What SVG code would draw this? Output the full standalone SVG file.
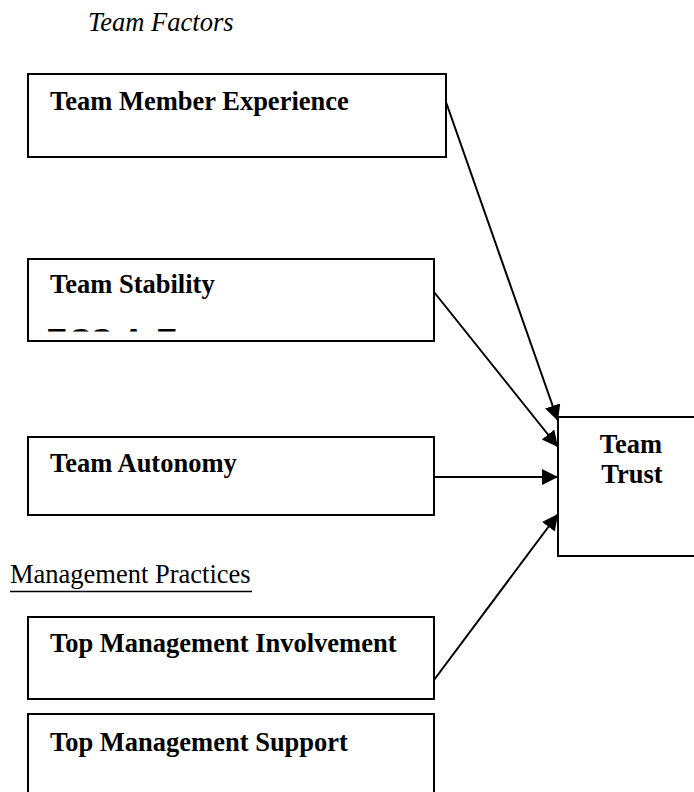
<svg xmlns="http://www.w3.org/2000/svg" width="694" height="792" viewBox="0 0 694 792">
<style>
.box{fill:#fff;stroke:#000;stroke-width:2}
.lbl{font-family:"Liberation Serif","Times New Roman",serif;font-weight:bold;font-size:26.5px;fill:#000}
.hdr{font-family:"Liberation Serif","Times New Roman",serif;font-size:26.5px;fill:#000}
.conn{stroke:#000;stroke-width:2;fill:none;marker-end:url(#ah)}
</style>
<defs>
<marker id="ah" markerUnits="userSpaceOnUse" markerWidth="17" markerHeight="17" refX="16" refY="8" orient="auto">
<path d="M0,0 L16,8 L0,16 z" fill="#000"/>
</marker>
<clipPath id="clipStab"><rect x="29" y="300" width="404" height="31.5"/></clipPath>
</defs>
<rect width="694" height="792" fill="#fff"/>
<text class="hdr" x="88" y="31" font-style="italic">Team Factors</text>
<text class="hdr" x="10" y="583">Management Practices</text>
<line x1="10" y1="591.5" x2="252" y2="591.5" stroke="#000" stroke-width="1.3"/>
<g id="n-experience">
<rect class="box" x="28" y="74" width="418" height="83"/>
<text class="lbl" x="50" y="110">Team Member Experience</text>
</g>
<g id="n-stability">
<rect class="box" x="28" y="259" width="406" height="82"/>
<text class="lbl" x="50" y="293">Team Stability</text>
<text clip-path="url(#clipStab)" font-family="'Liberation Sans',Arial,sans-serif" font-weight="bold" font-size="32" fill="#000" y="351"><tspan x="46">E</tspan><tspan x="70">S</tspan><tspan x="91">S</tspan><tspan x="122">A</tspan><tspan x="156">E</tspan></text>
</g>
<g id="n-autonomy">
<rect class="box" x="28" y="437" width="406" height="78"/>
<text class="lbl" x="50" y="472">Team Autonomy</text>
</g>
<g id="n-involvement">
<rect class="box" x="28" y="617" width="406" height="82"/>
<text class="lbl" x="50" y="652">Top Management Involvement</text>
</g>
<g id="n-support">
<rect class="box" x="28" y="714" width="406" height="100"/>
<text class="lbl" x="50" y="751">Top Management Support</text>
</g>
<g id="n-trust">
<rect class="box" x="558" y="417" width="160" height="139"/>
<text class="lbl" x="631" y="453" text-anchor="middle">Team</text>
<text class="lbl" x="632" y="483" text-anchor="middle">Trust</text>
</g>
<g id="connectors">
<line class="conn" x1="446" y1="102" x2="558" y2="421"/>
<line class="conn" x1="434" y1="292" x2="558" y2="447"/>
<line class="conn" x1="434" y1="477" x2="558" y2="477"/>
<line class="conn" x1="434" y1="680" x2="558" y2="514"/>
</g>
</svg>
